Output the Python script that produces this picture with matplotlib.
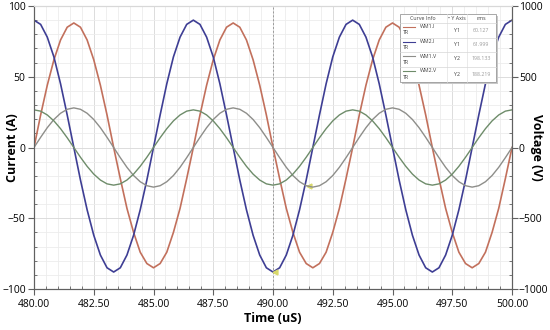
import matplotlib.pyplot as plt
from matplotlib.patches import Rectangle
from matplotlib.lines import Line2D
from matplotlib.ticker import MultipleLocator, FormatStrFormatter
import numpy as np

# sample times (uS), 24 samples per 150 kHz period
time_us = np.linspace(480, 500, 73)

# WM1.I current (A)
wm1_i = [0, 23, 44, 62, 76, 85, 88, 85, 76, 62, 44, 23, 0, -22, -43, -60, -74, -82, -85, -82, -74, -60, -43, -22,
         0, 23, 44, 62, 76, 85, 88, 85, 76, 62, 44, 23, 0, -22, -43, -60, -74, -82, -85, -82, -74, -60, -43, -22,
         0, 23, 44, 62, 76, 85, 88, 85, 76, 62, 44, 23, 0, -22, -43, -60, -74, -82, -85, -82, -74, -60, -43, -22,
         0]
# WM2.I current (A)
wm2_i = [90, 87, 78, 64, 45, 23, 0, -23, -44, -62, -76, -85, -88, -85, -76, -62, -44, -23, 0, 23, 45, 64, 78, 87,
         90, 87, 78, 64, 45, 23, 0, -23, -44, -62, -76, -85, -88, -85, -76, -62, -44, -23, 0, 23, 45, 64, 78, 87,
         90, 87, 78, 64, 45, 23, 0, -23, -44, -62, -76, -85, -88, -85, -76, -62, -44, -23, 0, 23, 45, 64, 78, 87,
         90]
# WM1.V voltage (V)
wm1_v = [0, 72, 140, 198, 242, 270, 280, 270, 242, 198, 140, 72, 0, -72, -140, -198, -242, -270, -280, -270, -242, -198, -140, -72,
         0, 72, 140, 198, 242, 270, 280, 270, 242, 198, 140, 72, 0, -72, -140, -198, -242, -270, -280, -270, -242, -198, -140, -72,
         0, 72, 140, 198, 242, 270, 280, 270, 242, 198, 140, 72, 0, -72, -140, -198, -242, -270, -280, -270, -242, -198, -140, -72,
         0]
# WM2.V voltage (V)
wm2_v = [266, 257, 230, 188, 133, 69, 0, -69, -133, -188, -230, -257, -266, -257, -230, -188, -133, -69, 0, 69, 133, 188, 230, 257,
         266, 257, 230, 188, 133, 69, 0, -69, -133, -188, -230, -257, -266, -257, -230, -188, -133, -69, 0, 69, 133, 188, 230, 257,
         266, 257, 230, 188, 133, 69, 0, -69, -133, -188, -230, -257, -266, -257, -230, -188, -133, -69, 0, 69, 133, 188, 230, 257,
         266]

curve_names = ['WM1.I', 'WM2.I', 'WM1.V', 'WM2.V']
curve_axes = ['Y1', 'Y1', 'Y2', 'Y2']
curve_rms = ['60.127', '61.999', '198.133', '188.219']
colors = ['#c2705c', '#3e3e94', '#8e8e8a', '#6e8c6a']

cursor_t = 490.0
cursor_pts = [(490.1, -88), (491.5, -27)]

plt.rcParams['font.family'] = ['Open Sans', 'DejaVu Sans']

fig = plt.figure(figsize=(5.5, 3.3), dpi=100, facecolor='white')
W, H = 550, 330
ax = fig.add_axes([34 / W, 1 - 289 / H, (512 - 34) / W, (289 - 6) / H])
ax2 = ax.twinx()

# grid
ax.xaxis.set_major_locator(MultipleLocator(2.5))
ax.xaxis.set_minor_locator(MultipleLocator(0.5))
ax.yaxis.set_major_locator(MultipleLocator(50))
ax.yaxis.set_minor_locator(MultipleLocator(10))
ax2.yaxis.set_major_locator(MultipleLocator(500))
ax2.yaxis.set_minor_locator(MultipleLocator(100))
ax.grid(True, which='major', color='#dcdcdc', linewidth=0.7)
ax.grid(True, which='minor', color='#ececec', linewidth=0.6)
ax.set_axisbelow(True)

ax.plot(time_us, wm1_i, color=colors[0], linewidth=1.2, zorder=3)
ax.plot(time_us, wm2_i, color=colors[1], linewidth=1.2, zorder=3)
ax2.plot(time_us, wm1_v, color=colors[2], linewidth=1.0)
ax2.plot(time_us, wm2_v, color=colors[3], linewidth=1.0)

# cursor
ax.axvline(cursor_t, color='#9a9a9a', linewidth=0.7, linestyle=(0, (2, 2)), zorder=2)
for t, v in cursor_pts:
    ax.plot(t, v, marker='<', markersize=3.5, color='#d8d86a', zorder=4)

ax.set_xlim(480, 500)
ax.set_ylim(-100, 100)
ax2.set_ylim(-1000, 1000)
ax.xaxis.set_major_formatter(FormatStrFormatter('%.2f'))

for a in (ax, ax2):
    for s in a.spines.values():
        s.set_color('#606060')
        s.set_linewidth(0.8)
    a.spines['top'].set_color('#d8d8d8')
ax.tick_params(which='major', direction='out', length=4, color='#606060', labelsize=7.5, pad=2)
ax.tick_params(which='minor', direction='in', length=2.5, color='#606060')
ax.tick_params(axis='x', which='both', top=False)
ax.tick_params(axis='x', which='major', pad=3)
ax2.tick_params(which='major', direction='out', length=4, color='#606060', labelsize=7.5, pad=1)
ax2.tick_params(which='minor', direction='in', length=2.5, color='#606060')

ax.set_xlabel('Time (uS)', fontsize=9, fontweight='bold')
ax.set_ylabel('Current (A)', fontsize=9, fontweight='bold')
ax2.set_ylabel('Voltage (V)', fontsize=9, fontweight='bold', rotation=270)
ax.xaxis.set_label_coords(0.5, (289 - 319) / 283)
ax.yaxis.set_label_coords((12 - 34) / 478, 0.5)
ax2.yaxis.set_label_coords((537 - 34) / 478, 0.5)
ax.xaxis.label.set_va('center')
ax.yaxis.label.set_va('center')
ax2.yaxis.label.set_va('center')


def fx(x):
    return x / W


def fy(y):
    return 1 - y / H


# legend table (Curve Info / Y Axis / rms)
bx0, bx1, by0, by1 = 400, 496, 14, 82
fig.add_artist(Rectangle((fx(bx0 + 2), fy(by1 + 2)), fx(bx1 - bx0), (by1 - by0) / H,
                         facecolor='#c8c8c8', edgecolor='none', zorder=10))
fig.add_artist(Rectangle((fx(bx0), fy(by1)), fx(bx1 - bx0), (by1 - by0) / H,
                         facecolor='white', edgecolor='#9a9a9a', linewidth=0.6, zorder=11))
col_x = [447, 467]
row_y = [23, 37.5, 52, 67]
for cx in col_x:
    fig.add_artist(Line2D([fx(cx), fx(cx)], [fy(by0), fy(by1)], color='#e2e2e2', linewidth=0.5, zorder=12))
for ry in row_y:
    fig.add_artist(Line2D([fx(bx0), fx(bx1)], [fy(ry), fy(ry)], color='#d6d6d6', linewidth=0.5, zorder=12))
hdr = dict(fontsize=3.8, color='#404040', ha='center', va='center', zorder=13)
fig.text(fx(423), fy(18.5), 'Curve Info', **hdr)
fig.text(fx(457), fy(18.5), '\u2022 Y Axis', **hdr)
fig.text(fx(481), fy(18.5), 'rms', **hdr)
for i, name in enumerate(curve_names):
    top = row_y[i]
    fig.add_artist(Line2D([fx(403), fx(415)], [fy(top + 4), fy(top + 4)], color=colors[i], linewidth=0.8, zorder=13))
    fig.text(fx(420), fy(top + 4), name, fontsize=3.8, color='#404040', va='center', zorder=13)
    fig.text(fx(403), fy(top + 10), 'TR', fontsize=3.8, color='#404040', va='center', zorder=13)
    fig.text(fx(457), fy(top + 7), curve_axes[i], fontsize=3.8, color='#404040', ha='center', va='center', zorder=13)
    fig.text(fx(481), fy(top + 7), curve_rms[i], fontsize=3.8, color='#9a9a9a', ha='center', va='center', zorder=13)

fig.savefig('out.png', dpi=100, facecolor='white')
